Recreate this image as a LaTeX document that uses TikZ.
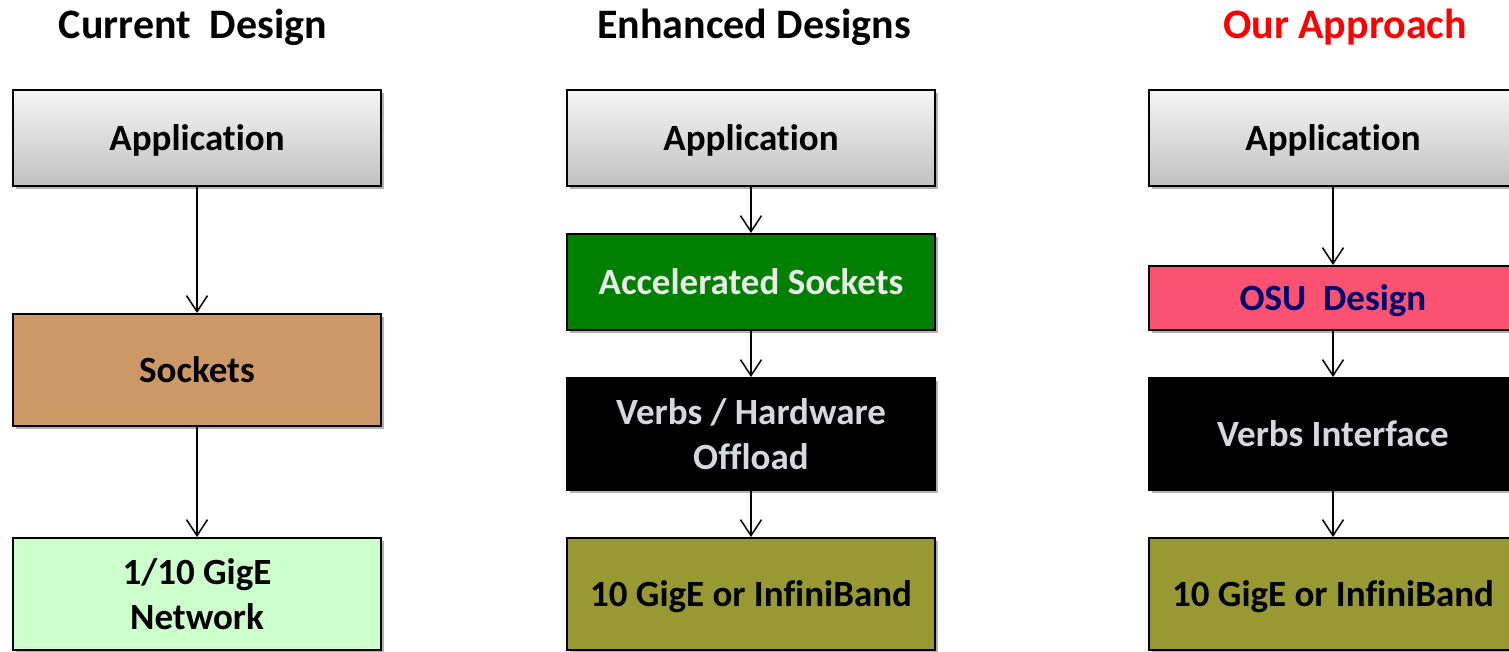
\documentclass[tikz,border=0pt]{standalone}
\usepackage{fontspec}
\setmainfont{Carlito}[Ligatures=NoCommon]
\usetikzlibrary{arrows.meta,shadows}
\definecolor{sockbrown}{RGB}{204,153,102}
\definecolor{lightgreen}{RGB}{204,255,204}
\definecolor{accgreen}{RGB}{0,128,0}
\definecolor{osupink}{RGB}{250,82,112}
\definecolor{osunavy}{RGB}{0,0,110}
\definecolor{olive}{RGB}{153,153,51}
\definecolor{lightgray}{RGB}{215,215,222}
\definecolor{accgray}{RGB}{235,235,235}
\tikzset{
  layer/.style={draw=black, line width=2pt, minimum width=368pt, inner sep=0pt,
    align=center, font=\fontsize{37}{44.5}\selectfont\bfseries,
    drop shadow={shadow xshift=3pt, shadow yshift=-3pt, opacity=0.3, fill=black}},
  oneline/.style={text height=28pt, text depth=4pt},
  appbox/.style={layer, oneline, minimum height=96pt, top color=gray!8, bottom color=gray!48},
  title/.style={font=\fontsize{42}{50}\selectfont\bfseries, inner sep=0pt},
  conn/.style={line width=1.5pt, -{Straight Barb[length=16pt,width=21pt,line width=1.5pt]}}
}
\begin{document}
\begin{tikzpicture}[x=1pt,y=-1pt]
\useasboundingbox (0,0) rectangle (1509,651);
\clip (0,0) rectangle (1509,651);
\fill[white] (0,0) rectangle (1509,651);
% titles
\node[title] (t1) at (193,27) {Current\ \ Design};
\node[title] (t2) at (754,27) {Enhanced Designs};
\node[title, text=red] (t3) at (1345,27) {Our Approach};
% left column
\node[appbox] (l1) at (197,138) {Application};
\node[layer, oneline, minimum height=112pt, fill=sockbrown] (l2) at (197,370) {Sockets};
\node[layer, minimum height=112pt, fill=lightgreen] (l3) at (197,594) {1/10 GigE\\Network};
% middle column
\node[appbox] (m1) at (751,138) {Application};
\node[layer, oneline, minimum height=96pt, fill=accgreen, text=accgray] (m2) at (751,282) {Accelerated Sockets};
\node[layer, minimum height=112pt, fill=black, text=lightgray] (m3) at (751,434) {Verbs / Hardware\\Offload};
\node[layer, oneline, minimum height=112pt, fill=olive] (m4) at (751,594) {10 GigE or InfiniBand};
% right column
\node[appbox] (r1) at (1333,138) {Application};
\node[layer, oneline, minimum height=64pt, fill=osupink, text=osunavy] (r2) at (1333,298) {OSU\ \ Design};
\node[layer, oneline, minimum height=112pt, fill=black, text=lightgray] (r3) at (1333,434) {Verbs Interface};
\node[layer, oneline, minimum height=112pt, fill=olive] (r4) at (1333,594) {10 GigE or InfiniBand};
% connectors
\draw[conn] (l1.south) -- (l2.north);
\draw[conn] (l2.south) -- (l3.north);
\draw[conn] (m1.south) -- (m2.north);
\draw[conn] (m2.south) -- (m3.north);
\draw[conn] (m3.south) -- (m4.north);
\draw[conn] (r1.south) -- (r2.north);
\draw[conn] (r2.south) -- (r3.north);
\draw[conn] (r3.south) -- (r4.north);
\end{tikzpicture}
\end{document}
